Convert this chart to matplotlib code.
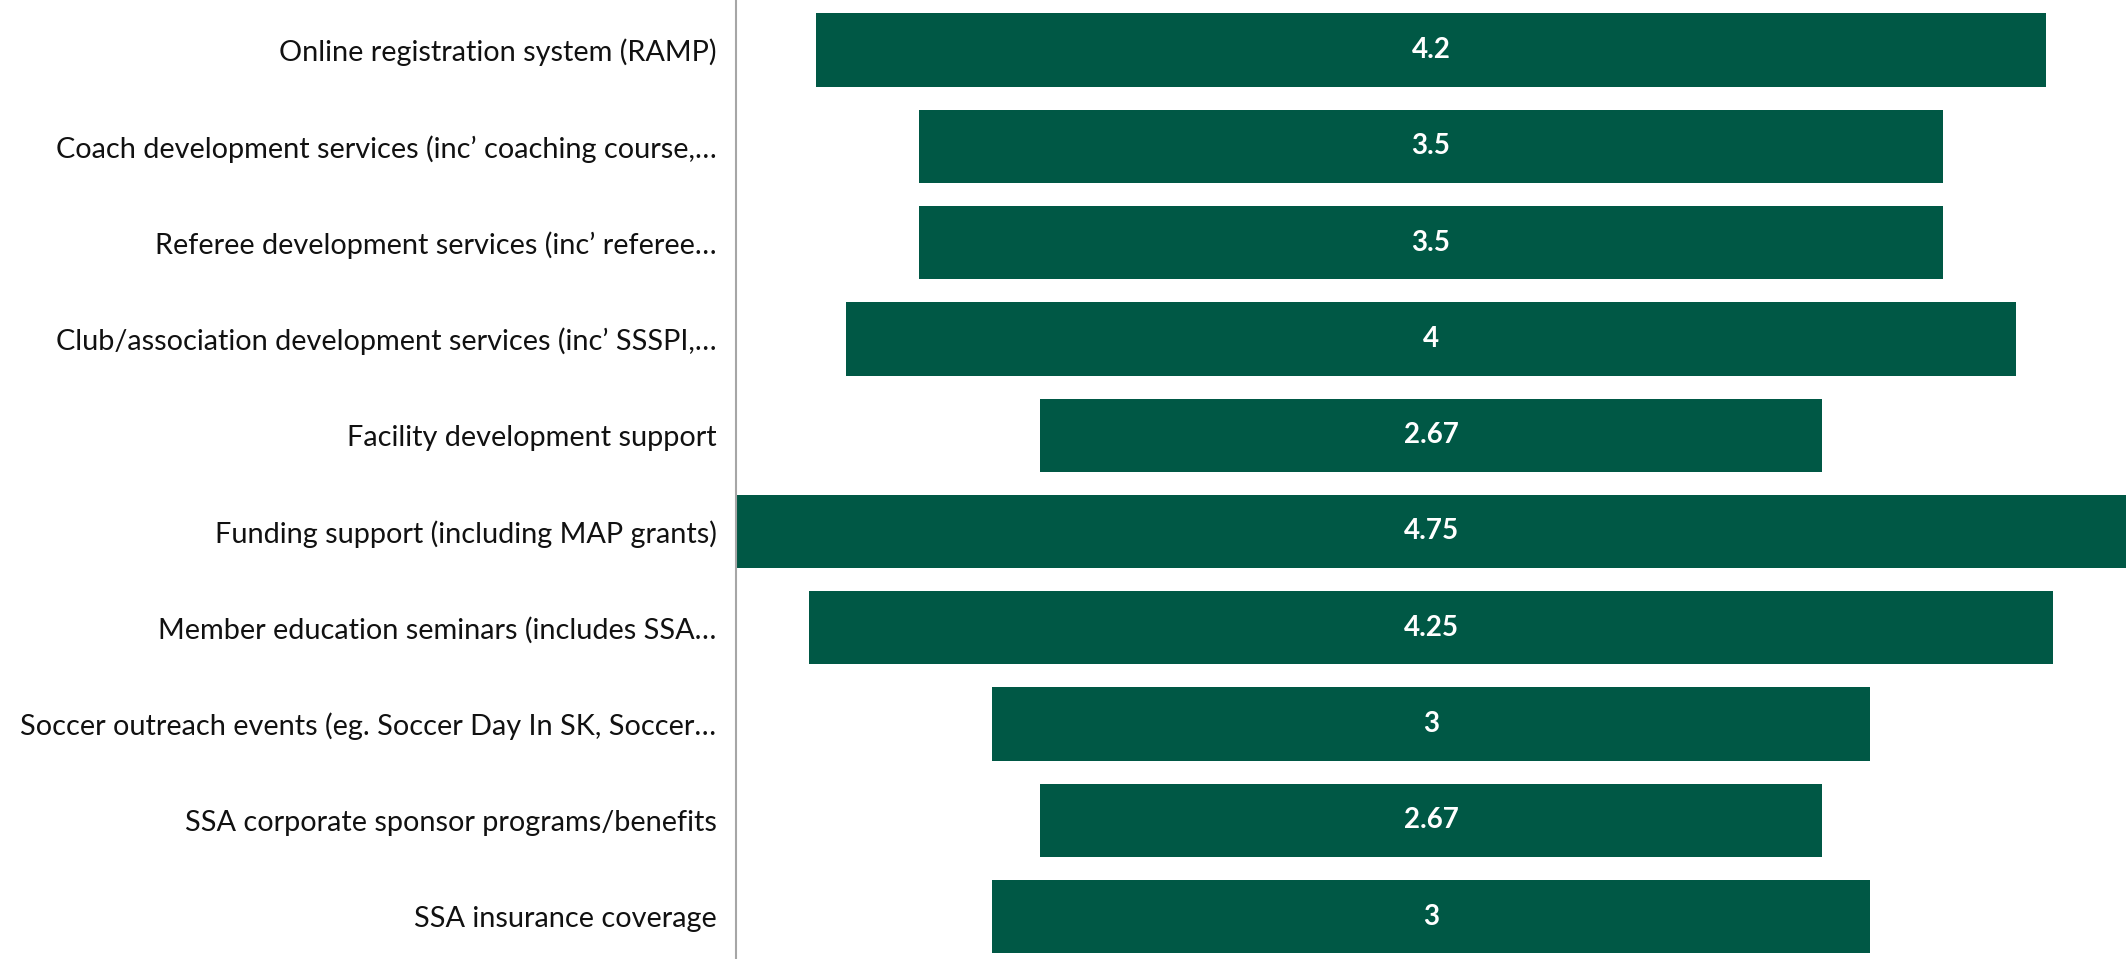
import numpy as np
import matplotlib.pyplot as plt

plt.rcParams['font.family'] = ['Lato', 'DejaVu Sans']

# данные
categories = [
    "Online registration system (RAMP)",
    "Coach development services (inc\u2019 coaching course,\u2026",
    "Referee development services (inc\u2019 referee\u2026",
    "Club/association development services (inc\u2019 SSSPI,\u2026",
    "Facility development support",
    "Funding support (including MAP grants)",
    "Member education seminars (includes SSA\u2026",
    "Soccer outreach events (eg. Soccer Day In SK, Soccer\u2026",
    "SSA corporate sponsor programs/benefits",
    "SSA insurance coverage",
]
scores = [4.2, 3.5, 3.5, 4, 2.67, 4.75, 4.25, 3, 2.67, 3]
score_labels = ["4.2", "3.5", "3.5", "4", "2.67", "4.75", "4.25", "3", "2.67", "3"]

W, H = 2126, 959
fig = plt.figure(figsize=(W / 100, H / 100), dpi=100)
ax = fig.add_axes([736 / W, 0, 1 - 736 / W, 1])

green = "#005845"
y = np.arange(len(categories))
vals = np.array(scores)

# центрированные полосы (воронка)
ax.barh(y, vals, left=-vals / 2, height=0.76, color=green)

for yi, lab in zip(y, score_labels):
    ax.text(0, yi, lab, ha="center", va="center", color="white",
            fontsize=20, fontweight="bold")

half = max(scores) / 2
ax.set_xlim(-half, half)
ax.set_ylim(len(categories) - 1 + 0.44, -0.52)

ax.set_yticks(y)
ax.set_yticklabels(categories, fontsize=20.8, color="#111111")
ax.tick_params(axis="y", length=0, pad=14)
ax.set_xticks([])

for s in ["top", "right", "bottom"]:
    ax.spines[s].set_visible(False)
ax.spines["left"].set_color("#a6a6a6")
ax.spines["left"].set_linewidth(1.5)

fig.savefig("out.png", dpi=100)
